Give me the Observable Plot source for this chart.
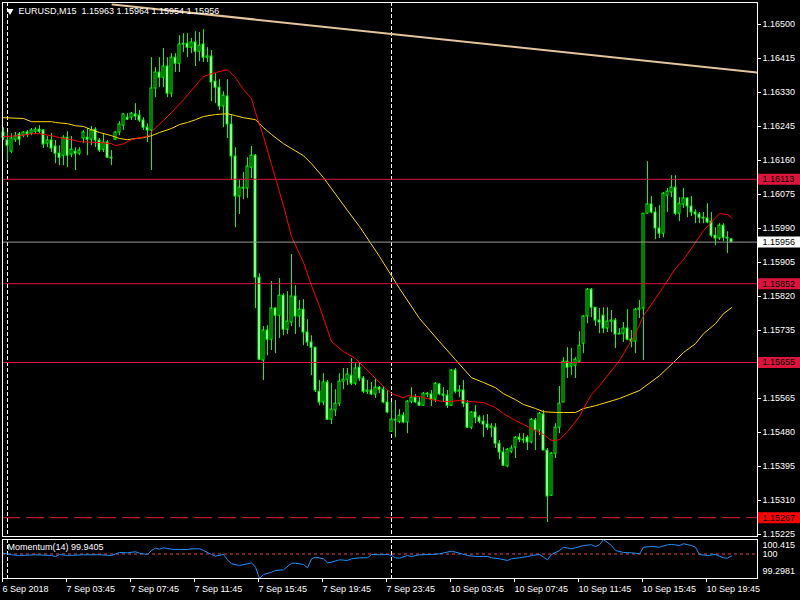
<!DOCTYPE html>
<html>
<head>
<meta charset="utf-8">
<script src="https://cdn.jsdelivr.net/npm/d3@7"></script>
<script src="https://cdn.jsdelivr.net/npm/@observablehq/plot@0.6"></script>
<style>
  html, body { margin: 0; padding: 0; background: #000; }
  #chart { position: relative; width: 800px; height: 600px; background: #000; overflow: hidden; }
  #chart svg { position: absolute; left: 0; display: block; }
</style>
</head>
<body>
<div id="chart"></div>
<script>
// EURUSD M15 candles, bar 0 = 6 Sep 2018 23:45 (server time)
const open = [1.16230,1.16210,1.16182,1.16212,1.16225,1.16222,1.16230,1.16227,1.16232,1.16237,
1.16235,1.16202,1.16210,1.16195,1.16177,1.16172,1.16217,1.16175,1.16182,1.16177,
1.16215,1.16217,1.16212,1.16237,1.16210,1.16187,1.16205,1.16167,1.16212,1.16230,
1.16247,1.16267,1.16267,1.16275,1.16272,1.16260,1.16242,1.16235,1.16340,1.16380,
1.16367,1.16395,1.16327,1.16417,1.16402,1.16450,1.16452,1.16442,1.16455,1.16432,
1.16450,1.16417,1.16420,1.16357,1.16342,1.16295,1.16320,1.16250,1.16170,1.16070,
1.16092,1.16090,1.16142,1.16172,1.15867,1.15660,1.15735,1.15712,1.15790,1.15772,
1.15822,1.15737,1.15755,1.15820,1.15770,1.15787,1.15730,1.15705,1.15692,1.15582,
1.15555,1.15605,1.15512,1.15535,1.15552,1.15607,1.15612,1.15622,1.15602,1.15642,
1.15615,1.15582,1.15585,1.15575,1.15592,1.15587,1.15555,1.15482,1.15512,1.15507,
1.15522,1.15505,1.15557,1.15567,1.15555,1.15547,1.15577,1.15575,1.15562,1.15600,
1.15575,1.15572,1.15547,1.15635,1.15582,1.15585,1.15552,1.15492,1.15530,1.15517,
1.15507,1.15500,1.15492,1.15492,1.15452,1.15430,1.15395,1.15432,1.15442,1.15467,
1.15462,1.15467,1.15455,1.15510,1.15485,1.15525,1.15435,1.15322,1.15427,1.15492,
1.15555,1.15657,1.15645,1.15647,1.15657,1.15702,1.15770,1.15837,1.15792,1.15760,
1.15772,1.15740,1.15757,1.15760,1.15725,1.15727,1.15740,1.15712,1.15707,1.15787,
1.15790,1.16027,1.16050,1.16030,1.15990,1.15977,1.16072,1.16080,1.16092,1.16027,
1.16050,1.16065,1.16045,1.16030,1.16025,1.16017,1.16015,1.16007,1.15972,1.15965,
1.15997,1.15967,1.15963];
const high = [1.16242,1.16230,1.16227,1.16230,1.16230,1.16232,1.16235,1.16240,1.16242,1.16247,
1.16237,1.16220,1.16227,1.16210,1.16197,1.16222,1.16232,1.16220,1.16192,1.16192,
1.16235,1.16240,1.16245,1.16242,1.16215,1.16227,1.16210,1.16185,1.16232,1.16257,
1.16277,1.16277,1.16280,1.16302,1.16285,1.16267,1.16252,1.16417,1.16392,1.16417,
1.16440,1.16417,1.16427,1.16427,1.16472,1.16477,1.16477,1.16465,1.16482,1.16480,
1.16487,1.16442,1.16435,1.16377,1.16362,1.16332,1.16362,1.16272,1.16192,1.16110,
1.16130,1.16167,1.16195,1.16175,1.15877,1.15745,1.15747,1.15857,1.15792,1.15865,
1.15827,1.15832,1.15925,1.15847,1.15810,1.15812,1.15762,1.15722,1.15692,1.15610,
1.15627,1.15610,1.15602,1.15587,1.15627,1.15640,1.15640,1.15665,1.15652,1.15655,
1.15620,1.15610,1.15605,1.15615,1.15595,1.15595,1.15585,1.15555,1.15560,1.15537,
1.15530,1.15560,1.15592,1.15575,1.15567,1.15580,1.15580,1.15585,1.15605,1.15602,
1.15592,1.15585,1.15637,1.15640,1.15597,1.15610,1.15560,1.15532,1.15547,1.15522,
1.15522,1.15525,1.15502,1.15502,1.15460,1.15442,1.15440,1.15447,1.15470,1.15477,
1.15477,1.15472,1.15515,1.15515,1.15530,1.15535,1.15440,1.15430,1.15502,1.15595,
1.15667,1.15692,1.15690,1.15667,1.15732,1.15772,1.15840,1.15840,1.15792,1.15790,
1.15792,1.15792,1.15785,1.15765,1.15740,1.15755,1.15787,1.15735,1.15790,1.15810,
1.16027,1.16157,1.16070,1.16042,1.16047,1.16080,1.16090,1.16122,1.16122,1.16067,
1.16090,1.16067,1.16070,1.16037,1.16030,1.16030,1.16052,1.16030,1.15992,1.16002,
1.16002,1.15982,1.15964];
const low = [1.16210,1.16160,1.16177,1.16205,1.16197,1.16217,1.16217,1.16222,1.16227,1.16227,
1.16190,1.16192,1.16180,1.16152,1.16147,1.16147,1.16142,1.16167,1.16135,1.16172,
1.16202,1.16172,1.16197,1.16192,1.16180,1.16180,1.16165,1.16147,1.16210,1.16222,
1.16235,1.16260,1.16260,1.16260,1.16255,1.16235,1.16205,1.16135,1.16317,1.16342,
1.16342,1.16317,1.16317,1.16380,1.16380,1.16430,1.16417,1.16427,1.16395,1.16407,
1.16405,1.16405,1.16307,1.16302,1.16285,1.16242,1.16215,1.16110,1.15992,1.16025,
1.16062,1.16065,1.16115,1.15790,1.15660,1.15610,1.15672,1.15685,1.15677,1.15715,
1.15722,1.15725,1.15745,1.15725,1.15742,1.15697,1.15695,1.15622,1.15580,1.15547,
1.15547,1.15510,1.15500,1.15520,1.15545,1.15587,1.15597,1.15597,1.15597,1.15607,
1.15577,1.15575,1.15572,1.15565,1.15577,1.15552,1.15527,1.15480,1.15467,1.15502,
1.15502,1.15477,1.15552,1.15552,1.15545,1.15545,1.15567,1.15545,1.15555,1.15572,
1.15555,1.15540,1.15545,1.15577,1.15567,1.15542,1.15490,1.15487,1.15502,1.15502,
1.15467,1.15485,1.15467,1.15440,1.15412,1.15395,1.15392,1.15427,1.15415,1.15455,
1.15452,1.15435,1.15452,1.15435,1.15472,1.15435,1.15255,1.15320,1.15415,1.15477,
1.15555,1.15615,1.15622,1.15615,1.15655,1.15677,1.15752,1.15767,1.15745,1.15727,
1.15727,1.15730,1.15730,1.15690,1.15725,1.15705,1.15710,1.15692,1.15677,1.15765,
1.15660,1.16027,1.16027,1.15962,1.15965,1.15967,1.16030,1.16067,1.16022,1.16007,
1.16040,1.16017,1.16020,1.16002,1.16002,1.16002,1.16002,1.15967,1.15947,1.15960,
1.15957,1.15927,1.15954];
const close = [1.16217,1.16197,1.16215,1.16220,1.16212,1.16230,1.16225,1.16235,1.16237,1.16232,
1.16200,1.16210,1.16190,1.16177,1.16167,1.16217,1.16172,1.16187,1.16177,1.16185,
1.16230,1.16212,1.16235,1.16210,1.16185,1.16205,1.16167,1.16165,1.16230,1.16250,
1.16275,1.16262,1.16277,1.16270,1.16260,1.16242,1.16235,1.16340,1.16380,1.16367,
1.16395,1.16327,1.16417,1.16402,1.16450,1.16452,1.16442,1.16455,1.16432,1.16447,
1.16417,1.16420,1.16355,1.16342,1.16295,1.16322,1.16250,1.16170,1.16070,1.16092,
1.16090,1.16145,1.16172,1.15867,1.15662,1.15735,1.15712,1.15790,1.15772,1.15822,
1.15737,1.15757,1.15820,1.15770,1.15787,1.15730,1.15705,1.15692,1.15585,1.15555,
1.15605,1.15512,1.15537,1.15552,1.15607,1.15612,1.15625,1.15602,1.15640,1.15615,
1.15582,1.15585,1.15575,1.15592,1.15587,1.15555,1.15530,1.15512,1.15510,1.15522,
1.15505,1.15557,1.15567,1.15555,1.15547,1.15577,1.15575,1.15562,1.15602,1.15575,
1.15572,1.15547,1.15635,1.15582,1.15585,1.15552,1.15492,1.15530,1.15517,1.15507,
1.15500,1.15492,1.15495,1.15452,1.15430,1.15397,1.15437,1.15440,1.15467,1.15462,
1.15460,1.15455,1.15512,1.15485,1.15527,1.15435,1.15320,1.15427,1.15492,1.15552,
1.15657,1.15642,1.15652,1.15662,1.15697,1.15770,1.15837,1.15792,1.15760,1.15755,
1.15740,1.15757,1.15760,1.15725,1.15727,1.15740,1.15712,1.15707,1.15787,1.15790,
1.16027,1.16050,1.16030,1.15990,1.15977,1.16077,1.16082,1.16092,1.16027,1.16052,
1.16065,1.16045,1.16030,1.16025,1.16017,1.16015,1.16005,1.15972,1.15965,1.15997,
1.15967,1.15965,1.15956];

// Fast moving average (red), sampled along the bar axis
const redBars = [0,4,7,9,12,14,17,19,24,27,28,30,32,34,36,38,40,42,45,48,50,53,56,58,60,62,63,65,67,70,72,75,77,79,82,85,88,90,93,95,97,100,101,104,106,108,111,114,117,120,123,125,128,130,133,135,137,139,141,144,145,147,149,154,158,160,163,165,168,170,173,175,178,179,181,182];
const redMA = [1.16220,1.16222,1.16227,1.16227,1.16222,1.16217,1.16212,1.16207,1.16205,1.16202,1.16197,1.16202,1.16212,1.16217,1.16220,1.16242,1.16260,1.16280,1.16312,1.16347,1.16370,1.16380,1.16387,1.16367,1.16337,1.16315,1.16280,1.16220,1.16150,1.16047,1.15970,1.15905,1.15847,1.15795,1.15707,1.15682,1.15665,1.15645,1.15615,1.15595,1.15577,1.15567,1.15572,1.15570,1.15565,1.15560,1.15557,1.15560,1.15557,1.15555,1.15542,1.15527,1.15510,1.15500,1.15485,1.15475,1.15460,1.15462,1.15482,1.15520,1.15540,1.15575,1.15597,1.15660,1.15727,1.15772,1.15815,1.15845,1.15890,1.15912,1.15955,1.15985,1.16017,1.16027,1.16025,1.16017];

// Slow moving average (gold)
const yelBars = [0,5,7,12,13,16,18,20,22,24,27,29,31,33,35,37,39,42,44,46,48,50,53,56,58,60,63,65,67,70,72,75,77,80,86,89,94,99,104,109,113,117,120,123,125,128,130,133,135,138,140,143,145,148,149,154,159,164,168,170,173,175,178,180,182];
const yelMA = [1.16267,1.16265,1.16257,1.16257,1.16255,1.16252,1.16247,1.16245,1.16237,1.16230,1.16222,1.16215,1.16212,1.16215,1.16217,1.16222,1.16230,1.16240,1.16250,1.16255,1.16262,1.16270,1.16275,1.16277,1.16272,1.16267,1.16262,1.16242,1.16225,1.16202,1.16190,1.16172,1.16152,1.16117,1.16035,1.15995,1.15920,1.15840,1.15765,1.15707,1.15662,1.15617,1.15605,1.15592,1.15577,1.15562,1.15550,1.15540,1.15532,1.15530,1.15530,1.15530,1.15540,1.15547,1.15550,1.15565,1.15585,1.15622,1.15660,1.15680,1.15702,1.15727,1.15752,1.15777,1.15792];

// Momentum(14)
const momBars = [0,2,4,8,12,13,14,16,20,24,27,28,29,31,33,34,36,37,38,39,40,42,44,46,47,49,50,52,53,55,56,57,59,61,62,63,64,65,67,68,70,72,73,75,76,77,78,80,81,82,84,86,87,89,91,92,94,96,97,98,99,101,102,104,107,109,112,114,116,118,121,122,124,126,127,129,131,132,134,136,137,139,140,142,143,145,147,148,149,150,152,153,155,157,158,159,160,162,164,166,167,169,170,172,173,174,176,178,180,181,182];
const momentum = [100.023,99.977,99.957,99.977,99.957,99.928,99.985,99.957,99.977,99.977,99.957,100.005,100.043,100.034,100.063,100.023,99.985,100.100,100.166,100.137,100.177,100.137,100.129,100.129,100.149,100.149,100.100,99.985,99.940,99.985,99.834,99.719,99.670,99.719,99.748,99.622,99.2981,99.413,99.478,99.527,99.547,99.736,99.736,99.699,99.605,99.862,99.908,99.862,99.748,99.765,99.834,99.814,99.862,99.891,99.891,99.985,99.977,99.985,99.957,99.891,99.879,99.957,99.928,99.977,99.985,100.005,100.080,100.023,99.957,99.928,99.928,99.891,99.862,99.814,99.862,99.891,99.928,99.957,99.985,99.834,99.985,100.100,100.194,100.149,100.177,100.243,100.263,100.214,100.263,100.415,100.243,100.100,100.043,100.034,100.023,100.005,100.194,100.214,100.194,100.263,100.272,100.243,100.292,100.243,100.194,99.985,99.957,99.985,99.891,99.879,99.9405];
const momLevel = 100;

// Trend line anchors (bar, price)
const trendBars = [27.25, 188.5];
const trendPrices = [1.16550, 1.16380];

// Horizontal price levels
const solidLevels = [1.16113, 1.15852, 1.15655];
const dashedLevel = 1.15267;

// Day separators (first bar of each day) and time axis
const separators = [1, 97];
const timeTickBars = [0,16,32,48,64,80,96,112,128,144,160,176];
const timeTickLabels = ["6 Sep 2018","7 Sep 03:45","7 Sep 07:45","7 Sep 11:45","7 Sep 15:45","7 Sep 19:45","7 Sep 23:45","10 Sep 03:45","10 Sep 07:45","10 Sep 11:45","10 Sep 15:45","10 Sep 19:45"];

// Price axis ticks (the 1.15650 step sits under the 1.15655 level label)
const priceTicks = [1.15225,1.15310,1.15395,1.15480,1.15565,1.15735,1.15820,1.15905,1.15990,1.16075,1.16160,1.16245,1.16330,1.16415,1.16500];

const LIME = "#00ff00";
const CRIMSON = "#dc143c";
const fmt5 = d3.format(".5f");
const last = close.length - 1;
const bid = close[last];

const candles = open.map((o, i) => ({i, o, h: high[i], l: low[i], c: close[i]}));
const redData = redBars.map((b, k) => ({b, v: redMA[k]}));
const yelData = yelBars.map((b, k) => ({b, v: yelMA[k]}));
const trendData = trendBars.map((b, k) => ({b, v: trendPrices[k]}));
const momData = momBars.map((b, k) => ({b, v: momentum[k]}));

const labelBoxes = [
  {p: solidLevels[0], bg: CRIMSON},
  {p: bid, bg: "#ffffff"},
  {p: solidLevels[1], bg: CRIMSON},
  {p: solidLevels[2], bg: CRIMSON},
  {p: dashedLevel, bg: "#ff0000"}
];

const xOpts = {type: "linear", domain: [-0.25, 188.5], axis: null};
const font = {fontFamily: "'Liberation Sans', Arial, sans-serif", fontSize: "9px", background: "transparent", color: "#ffffff", overflow: "visible"};
const boxX1 = 188.75, boxX2 = 199.5, labelX = 189.75;

const title = `EURUSD,M15\u00a0\u00a0${fmt5(open[last])} ${fmt5(high[last])} ${fmt5(low[last])} ${fmt5(close[last])}`;

const main = Plot.plot({
  width: 800, height: 537,
  marginLeft: 2, marginRight: 43, marginTop: 2, marginBottom: 1,
  style: font,
  x: xOpts,
  y: {domain: [1.15220, 1.16555], axis: null},
  marks: [
    Plot.ruleX(separators, {x: d => d, stroke: "#ffffff", strokeDasharray: "4,2"}),
    // candles
    Plot.ruleX(candles, {x: "i", y1: "l", y2: "h", stroke: LIME}),
    Plot.rect(candles.filter(d => d.o !== d.c), {
      x1: d => d.i - 0.25, x2: d => d.i + 0.25, y1: "o", y2: "c",
      fill: d => d.c > d.o ? "#000000" : "#ffffff", stroke: LIME, strokeWidth: 1
    }),
    Plot.ruleY(candles.filter(d => d.o === d.c), {x1: d => d.i - 0.25, x2: d => d.i + 0.25, y: "o", stroke: LIME}),
    // moving averages
    Plot.line(yelData, {x: "b", y: "v", stroke: "#ffd700", strokeWidth: 1}),
    Plot.line(redData, {x: "b", y: "v", stroke: "#ff0000", strokeWidth: 1}),
    // horizontal levels
    Plot.ruleY(solidLevels, {y: d => d, stroke: CRIMSON}),
    Plot.ruleY([bid], {y: d => d, stroke: "#9a9a9a"}),
    Plot.ruleY([dashedLevel], {y: d => d, stroke: "#e0202a", strokeDasharray: "18,6"}),
    // trend line
    Plot.line(trendData, {x: "b", y: "v", stroke: "#e3c49c", strokeWidth: 2, clip: true}),
    Plot.frame({stroke: "#ffffff"}),
    // price axis
    Plot.axisY(priceTicks, {anchor: "right", tickSize: 3, tickPadding: 2, tickFormat: fmt5, label: null, color: "#ffffff"}),
    Plot.ruleY(labelBoxes, {y: "p", x1: boxX1, x2: boxX2, stroke: "bg", strokeWidth: 11}),
    Plot.text(labelBoxes, {y: "p", x: labelX, text: d => fmt5(d.p), textAnchor: "start", fill: "#000000"}),
    // title
    Plot.dot([title], {frameAnchor: "top-left", dx: 7.5, dy: 8.5, symbol: "triangle", r: 2.6, rotate: 180, fill: "#ffffff", stroke: null}),
    Plot.text([title], {frameAnchor: "top-left", dx: 16, dy: 5, lineAnchor: "top", textAnchor: "start", fill: "#ffffff", text: d => d})
  ]
});
main.style.top = "0px";

const momLabel = `Momentum(14) ${d3.format(".4f")(momentum[momentum.length - 1])}`;
const momMax = d3.max(momentum), momMin = d3.min(momentum);

const mom = Plot.plot({
  width: 800, height: 63,
  marginLeft: 2, marginRight: 43, marginTop: 2, marginBottom: 22,
  style: font,
  x: xOpts,
  y: {domain: [momMin, momMax], axis: null},
  marks: [
    Plot.ruleX(separators, {x: d => d, stroke: "#ffffff", strokeDasharray: "4,2"}),
    Plot.ruleY([momLevel], {y: d => d, stroke: "#e04848", strokeDasharray: "3,3"}),
    Plot.line(momData, {x: "b", y: "v", stroke: "#1e90ff", strokeWidth: 1}),
    Plot.frame({stroke: "#ffffff"}),
    Plot.text([momMax], {y: d => d, x: labelX, text: d => String(+d.toFixed(4)), textAnchor: "start", dy: 6, fill: "#ffffff"}),
    Plot.text([momLevel], {y: d => d, x: labelX, text: d => String(d), textAnchor: "start", fill: "#ffffff"}),
    Plot.text([momMin], {y: d => d, x: labelX, text: d => String(+d.toFixed(4)), textAnchor: "start", dy: -7, fill: "#ffffff"}),
    Plot.text([momLabel], {frameAnchor: "top-left", dx: 5, dy: 4, lineAnchor: "top", textAnchor: "start", fill: "#ffffff", text: d => d}),
    Plot.axisX(timeTickBars, {
      anchor: "bottom", tickSize: 4, tickPadding: 3, label: null, color: "#ffffff",
      textAnchor: "start", dx: -1,
      tickFormat: d => timeTickLabels[timeTickBars.indexOf(d)]
    })
  ]
});
mom.style.top = "537px";

const chart = document.getElementById("chart");
chart.appendChild(main);
chart.appendChild(mom);
</script>
</body>
</html>
